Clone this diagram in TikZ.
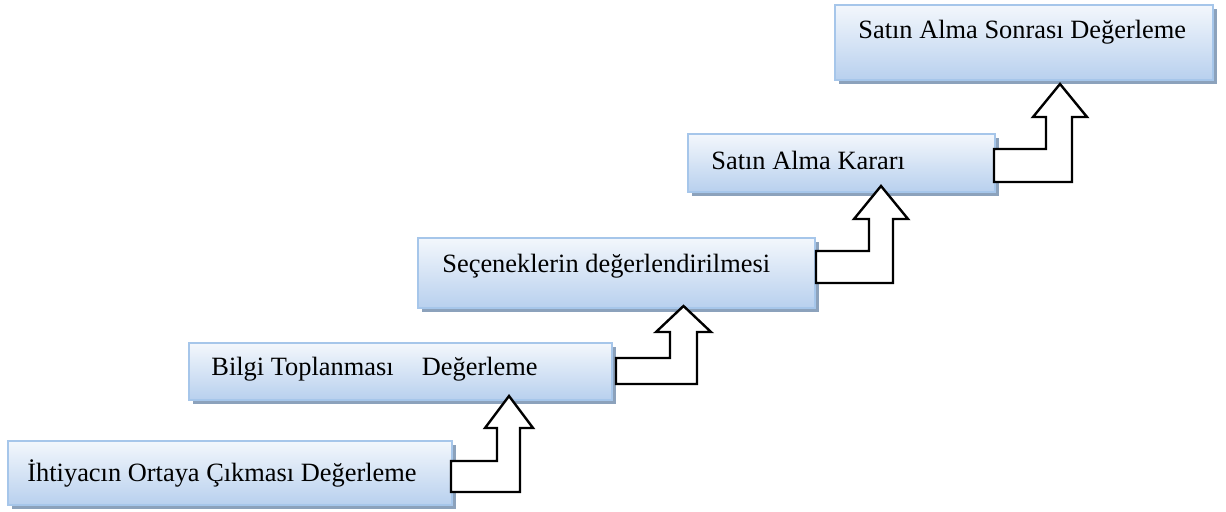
\documentclass[tikz,border=0pt]{standalone}
\usepackage{fontspec}
\setmainfont{Liberation Serif}
\usetikzlibrary{fit,shadows}
\definecolor{boxtop}{HTML}{F3F7FC}
\definecolor{boxbot}{HTML}{B8D0EE}
\definecolor{boxline}{HTML}{A6C6EA}
\definecolor{shadowcol}{HTML}{8CA2BC}
\tikzset{
  stepbox/.style={inner sep=0pt, draw=boxline, line width=1pt,
    top color=boxtop, bottom color=boxbot,
    drop shadow={shadow xshift=2pt, shadow yshift=-2.2pt, fill=shadowcol, opacity=1}},
  lbl/.style={inner sep=0pt, anchor=base west, font=\fontsize{13.2}{15}\selectfont},
  bent/.style={draw=black, fill=white, line width=1.2pt, line join=miter}
}
\newcommand{\bentarrow}[9]{%
  % #1 left x, #2 bar top, #3 bar bottom, #4 stem left, #5 stem right,
  % #6 head base y, #7 head left, #8 head right, #9 tip y
  \draw[bent] (#1,#2) -- (#4,#2) -- (#4,#6) -- (#7,#6) -- ({(#7+#8)/2},#9)
    -- (#8,#6) -- (#5,#6) -- (#5,#3) -- (#1,#3) -- cycle;}
\begin{document}
\begin{tikzpicture}[x=0.5pt,y=-0.5pt]
\useasboundingbox (0,0) rectangle (1226,512);
\node[stepbox, fit={(8,441) (452,505)}] (b1) {};
\node[lbl] (t1) at (27,482) {İhtiyacın Ortaya Çıkması Değerleme};
\node[stepbox, fit={(189,343) (612,400)}] (b2) {};
\node[lbl] (t2) at (211,376) {Bilgi Toplanması\hspace{1.07em}Değerleme};
\node[stepbox, fit={(418,238) (815,308)}] (b3) {};
\node[lbl] (t3) at (442,273) {Seçeneklerin değerlendirilmesi};
\node[stepbox, fit={(688,134) (995,192)}] (b4) {};
\node[lbl] (t4) at (711,170) {Satın Alma Kararı};
\node[stepbox, fit={(835,5) (1213,80)}] (b5) {};
\node[lbl] (t5) at (858,39) {Satın Alma Sonrası Değerleme};
\bentarrow{451}{461}{492}{497}{520}{428}{485}{533}{396}
\bentarrow{616}{358}{384}{670}{697}{332}{656}{711}{306}
\bentarrow{816}{251}{283}{869}{893}{219}{854}{908}{186}
\bentarrow{994}{149}{182}{1046}{1072}{117}{1033}{1087}{84}
\end{tikzpicture}
\end{document}
